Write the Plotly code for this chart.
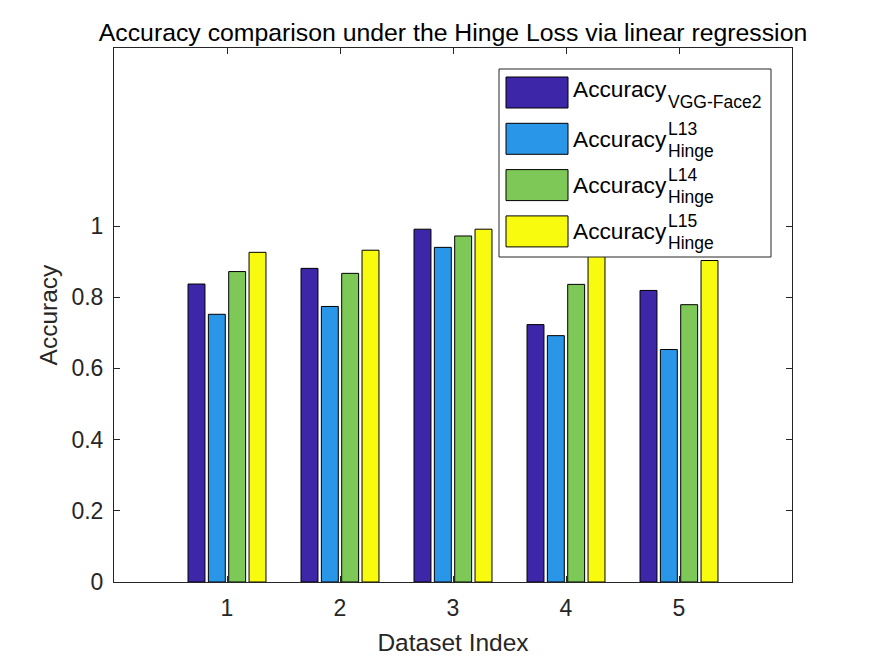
import plotly.graph_objects as go

# ---- data ----
datasets = [1, 2, 3, 4, 5]
acc_vgg = [0.837, 0.881, 0.991, 0.723, 0.819]
acc_l13 = [0.752, 0.774, 0.940, 0.692, 0.653]
acc_l14 = [0.872, 0.867, 0.972, 0.836, 0.779]
acc_l15 = [0.926, 0.932, 0.991, 0.950, 0.903]
series_values = [acc_vgg, acc_l13, acc_l14, acc_l15]
series_main = ["Accuracy", "Accuracy", "Accuracy", "Accuracy"]
series_sup = ["", "L13", "L14", "L15"]
series_sub = ["VGG-Face2", "Hinge", "Hinge", "Hinge"]
y_ticks = [0, 0.2, 0.4, 0.6, 0.8, 1]
y_ticklabels = ["0", "0.2", "0.4", "0.6", "0.8", "1"]
colors = ["#3E26A8", "#2A96E8", "#7DC857", "#F9FB0E"]

W, H = 875, 656
L, R, T, B = 114, 792, 48, 582
FONT = "Liberation Sans, Arial, sans-serif"
INK = "#262626"
LEG_MAIN = 22.7
LEG_SMALL = 17.5

fig = go.Figure()
for vals, name, col in zip(series_values, series_sub, colors):
    fig.add_trace(go.Bar(x=datasets, y=vals, name=name, marker_color=col,
                         marker_line_color="#000000", marker_line_width=1,
                         showlegend=False))

def px_x(x):
    return (x - L) / (R - L)

def px_y(y):
    return (B - y) / (B - T)

shapes = []
annotations = []
# legend box
shapes.append(dict(type="rect", xref="paper", yref="paper", layer="above",
                   x0=px_x(499), x1=px_x(771), y0=px_y(257), y1=px_y(69),
                   line=dict(color=INK, width=1), fillcolor="white"))
row_step = 46.3
for i, col in enumerate(colors):
    cy = 92.5 + i * row_step
    shapes.append(dict(type="rect", xref="paper", yref="paper", layer="above",
                       x0=px_x(506), x1=px_x(568), y0=px_y(cy + 15.5), y1=px_y(cy - 15.5),
                       line=dict(color="#000000", width=1), fillcolor=col))
    off = 0.35 * LEG_SMALL
    if series_sup[i]:
        main_base = cy + 8
        annotations.append(dict(text=series_sup[i], xref="paper", yref="paper",
                                x=px_x(666), y=px_y(cy - 4 - off), xanchor="left", yanchor="middle",
                                showarrow=False, font=dict(size=LEG_SMALL, color="#000000", family=FONT)))
        annotations.append(dict(text=series_sub[i], xref="paper", yref="paper",
                                x=px_x(666), y=px_y(cy + 18 - off), xanchor="left", yanchor="middle",
                                showarrow=False, font=dict(size=LEG_SMALL, color="#000000", family=FONT)))
    else:
        main_base = cy + 4.8
        annotations.append(dict(text=series_sub[i], xref="paper", yref="paper",
                                x=px_x(666), y=px_y(cy + 15.2 - off), xanchor="left", yanchor="middle",
                                showarrow=False, font=dict(size=LEG_SMALL, color="#000000", family=FONT)))
    annotations.append(dict(text=series_main[i], xref="paper", yref="paper",
                            x=px_x(571), y=px_y(main_base - 0.35 * LEG_MAIN), xanchor="left", yanchor="middle",
                            showarrow=False, font=dict(size=LEG_MAIN, color="#000000", family=FONT)))

fig.update_layout(
    width=W, height=H,
    margin=dict(l=L, r=W - R, t=T, b=H - B, pad=0, autoexpand=False),
    paper_bgcolor="white", plot_bgcolor="white",
    barmode="group", bargap=0.28, bargroupgap=0.167,
    font=dict(family=FONT, color=INK),
    title=dict(text="Accuracy comparison under the Hinge Loss via linear regression",
               x=0.5, xref="paper", y=1 - 32 / H, yref="container",
               xanchor="center", yanchor="middle",
               font=dict(size=24.8, color="#000000", family=FONT)),
    xaxis=dict(range=[0, 6], tickvals=datasets, ticktext=[str(d) for d in datasets],
               ticks="inside", ticklen=6, tickcolor=INK, showline=True, linecolor=INK,
               linewidth=1, mirror="ticks", showgrid=False, zeroline=False,
               ticklabelstandoff=5, automargin=False,
               tickfont=dict(size=23, color=INK),
               title=dict(text="Dataset Index", font=dict(size=24.5, color=INK), standoff=16)),
    yaxis=dict(range=[0, 1.5], tickvals=y_ticks, ticktext=y_ticklabels,
               ticks="inside", ticklen=6, tickcolor=INK, showline=True, linecolor=INK,
               linewidth=1, mirror="ticks", showgrid=False, zeroline=False,
               ticklabelstandoff=5, automargin=False,
               tickfont=dict(size=23, color=INK),
               title=dict(text="Accuracy", font=dict(size=24.5, color=INK), standoff=6)),
    shapes=shapes, annotations=annotations,
)

fig.write_html("out.html", config={"displayModeBar": False},
               post_script="document.body.style.margin='0';")
